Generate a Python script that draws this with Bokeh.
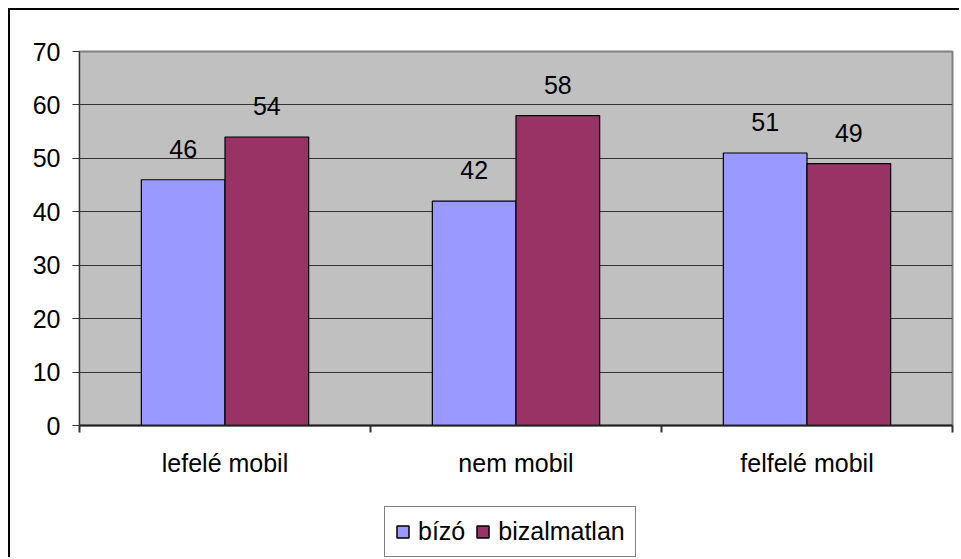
from bokeh.plotting import figure
from bokeh.layouts import column
from bokeh.models import ColumnDataSource, FixedTicker, Legend, LegendItem, Range1d
from bokeh.core.properties import value
from bokeh.embed import file_html
from bokeh.resources import INLINE

categories = ["lefelé mobil", "nem mobil", "felfelé mobil"]
series_names = ["bízó", "bizalmatlan"]
bizo = [46, 42, 51]
bizalmatlan = [54, 58, 49]
y_ticks = [0, 10, 20, 30, 40, 50, 60, 70]
colors = ["#9999FF", "#993366"]

FONT = "Liberation Sans"
FS = "25px"
BW = 0.2875

centers = [i + 0.5 for i in range(len(categories))]

p = figure(width=951, height=485, output_backend="svg", toolbar_location=None,
           x_range=Range1d(0, 3), y_range=Range1d(0, 70),
           min_border_left=69, min_border_top=41, min_border_right=9, min_border_bottom=70)
p.styles = {"margin-left": "8px", "margin-top": "8px",
            "border-left": "2px solid black", "border-top": "2px solid black"}
p.background_fill_color = "#C0C0C0"
p.border_fill_color = "white"
p.outline_line_color = "#808080"
p.outline_line_width = 2

p.xgrid.visible = False
p.ygrid.ticker = FixedTicker(ticks=y_ticks[1:-1])
p.ygrid.grid_line_color = "#333333"
p.ygrid.grid_line_width = 1

for k, (name, vals) in enumerate(zip(series_names, [bizo, bizalmatlan])):
    xs = [c + (k - 0.5) * BW for c in centers]
    src = ColumnDataSource(dict(x=xs, top=vals, lab=[str(v) for v in vals]))
    p.vbar(x="x", top="top", bottom=0, width=BW, source=src,
           fill_color=colors[k], line_color="black", line_width=1.2)
    p.text(x="x", y="top", text="lab", source=src, text_align="center",
           text_baseline="alphabetic", y_offset=-31,
           text_font=value(FONT), text_font_size=FS, text_color="black")

# axes
xa = p.xaxis[0]
xa.ticker = FixedTicker(ticks=centers, minor_ticks=[0, 1, 2, 3])
xa.major_label_overrides = {c: cat for c, cat in zip(centers, categories)}
xa.major_tick_in = 0
xa.major_tick_out = 0
xa.minor_tick_in = 0
xa.minor_tick_out = 7
xa.minor_tick_line_color = "#333333"
xa.minor_tick_line_width = 2
xa.axis_line_color = "#222222"
xa.axis_line_width = 2
xa.major_label_text_font = FONT
xa.major_label_text_font_size = FS
xa.major_label_text_color = "black"
xa.major_label_standoff = 16

ya = p.yaxis[0]
ya.ticker = FixedTicker(ticks=y_ticks)
ya.minor_tick_line_color = None
ya.major_tick_in = 0
ya.major_tick_out = 7
ya.major_tick_line_color = "#333333"
ya.axis_line_color = "#333333"
ya.major_label_text_font = FONT
ya.major_label_text_font_size = FS
ya.major_label_text_color = "black"
ya.major_label_standoff = 12

# legend strip below the chart
lf = figure(width=951, height=64, output_backend="svg", toolbar_location=None,
            x_range=Range1d(0, 1), y_range=Range1d(0, 1),
            x_axis_location=None, y_axis_location=None,
            min_border_left=0, min_border_right=0, min_border_top=0, min_border_bottom=0)
lf.styles = {"margin-left": "8px", "border-left": "2px solid black"}
lf.grid.visible = False
lf.outline_line_color = None
lf.background_fill_color = "white"
lf.border_fill_color = "white"

leg_renderers = []
for c in colors:
    s = ColumnDataSource(dict(x=[0.5], top=[float("nan")]))  # legend swatch only, nothing drawn
    leg_renderers.append(lf.vbar(x="x", top="top", width=0.1, source=s,
                                 fill_color=c, line_color="black", line_width=1.5))

legend = Legend(items=[LegendItem(label=n, renderers=[r]) for n, r in zip(series_names, leg_renderers)],
                orientation="horizontal", location=(305, 0),
                label_text_font=FONT, label_text_font_size=FS, label_text_color="black",
                glyph_width=15, glyph_height=15, label_standoff=8, spacing=10,
                padding=10, margin=0,
                border_line_color="black", border_line_width=1.5,
                background_fill_color="white", background_fill_alpha=1)
lf.add_layout(legend, "center")

layout = column(p, lf, spacing=0)
open("out.html", "w").write(file_html(layout, INLINE))
